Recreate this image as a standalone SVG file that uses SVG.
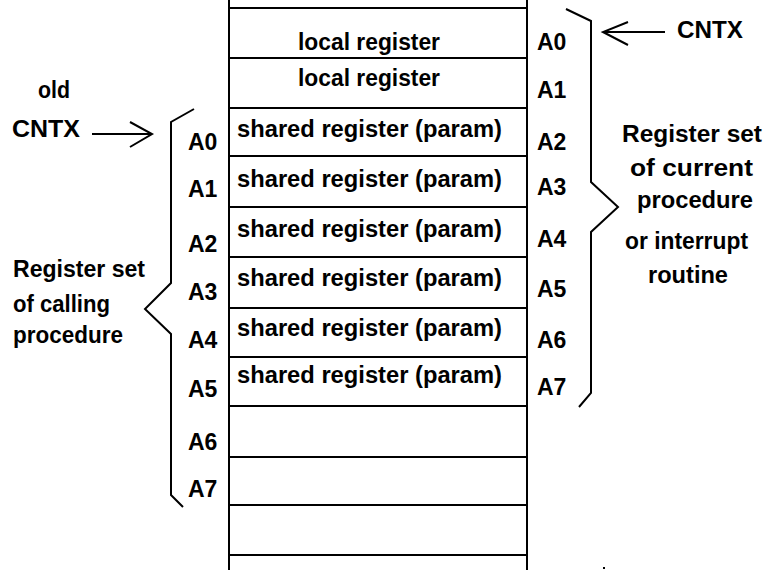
<svg xmlns="http://www.w3.org/2000/svg" width="778" height="570" viewBox="0 0 778 570">
<style>
  .ln { stroke:#000; stroke-width:2; fill:none; }
  .t { font-family:"Liberation Sans", Arial, Helvetica, sans-serif; font-weight:bold; font-size:23px; fill:#000; }
  .m { text-anchor:middle; }
  .a { font-family:"Liberation Sans", Arial, Helvetica, sans-serif; font-weight:bold; font-size:23px; fill:#000; }
</style>
<rect width="778" height="570" fill="#fff"/>

<g id="register-stack">
  <line class="ln" x1="229" y1="0" x2="229" y2="570"/>
  <line class="ln" x1="527" y1="0" x2="527" y2="570"/>
  <line class="ln" x1="229" y1="8" x2="527" y2="8"/>
  <line class="ln" x1="229" y1="58" x2="527" y2="58"/>
  <line class="ln" x1="229" y1="108" x2="527" y2="108"/>
  <line class="ln" x1="229" y1="156" x2="527" y2="156"/>
  <line class="ln" x1="229" y1="207" x2="527" y2="207"/>
  <line class="ln" x1="229" y1="257" x2="527" y2="257"/>
  <line class="ln" x1="229" y1="308" x2="527" y2="308"/>
  <line class="ln" x1="229" y1="357" x2="527" y2="357"/>
  <line class="ln" x1="229" y1="406" x2="527" y2="406"/>
  <line class="ln" x1="229" y1="457" x2="527" y2="457"/>
  <line class="ln" x1="229" y1="505" x2="527" y2="505"/>
  <line class="ln" x1="229" y1="555" x2="527" y2="555"/>
</g>

<g id="row-local-1"><text class="t m" x="369" y="50" textLength="142" lengthAdjust="spacingAndGlyphs">local register</text></g>
<g id="row-local-2"><text class="t m" x="369" y="86" textLength="142" lengthAdjust="spacingAndGlyphs">local register</text></g>
<g id="row-shared-1"><text class="t m" x="369.5" y="137" textLength="265" lengthAdjust="spacingAndGlyphs">shared register (param)</text></g>
<g id="row-shared-2"><text class="t m" x="369.5" y="187" textLength="265" lengthAdjust="spacingAndGlyphs">shared register (param)</text></g>
<g id="row-shared-3"><text class="t m" x="369.5" y="237" textLength="265" lengthAdjust="spacingAndGlyphs">shared register (param)</text></g>
<g id="row-shared-4"><text class="t m" x="369.5" y="286" textLength="265" lengthAdjust="spacingAndGlyphs">shared register (param)</text></g>
<g id="row-shared-5"><text class="t m" x="369.5" y="336" textLength="265" lengthAdjust="spacingAndGlyphs">shared register (param)</text></g>
<g id="row-shared-6"><text class="t m" x="369.5" y="383" textLength="265" lengthAdjust="spacingAndGlyphs">shared register (param)</text></g>

<g id="labels-current">
  <text class="a" x="537" y="50">A0</text>
  <text class="a" x="537" y="98">A1</text>
  <text class="a" x="537" y="150">A2</text>
  <text class="a" x="537" y="195">A3</text>
  <text class="a" x="537" y="247">A4</text>
  <text class="a" x="537" y="297">A5</text>
  <text class="a" x="537" y="348">A6</text>
  <text class="a" x="537" y="395">A7</text>
</g>

<g id="labels-calling">
  <text class="a" x="188" y="150">A0</text>
  <text class="a" x="188" y="197">A1</text>
  <text class="a" x="188" y="252">A2</text>
  <text class="a" x="188" y="300">A3</text>
  <text class="a" x="188" y="348">A4</text>
  <text class="a" x="188" y="397">A5</text>
  <text class="a" x="188" y="450">A6</text>
  <text class="a" x="188" y="497">A7</text>
</g>

<g id="old-cntx">
  <text class="t" x="38" y="98" textLength="32" lengthAdjust="spacingAndGlyphs">old</text>
  <text class="t" x="12" y="137" textLength="68" lengthAdjust="spacingAndGlyphs">CNTX</text>
</g>

<g id="cntx">
  <text class="t" x="677" y="38" textLength="66" lengthAdjust="spacingAndGlyphs">CNTX</text>
</g>

<g id="calling-set">
  <text class="t" x="13" y="277" textLength="132" lengthAdjust="spacingAndGlyphs">Register set</text>
  <text class="t" x="13" y="312" textLength="97" lengthAdjust="spacingAndGlyphs">of calling</text>
  <text class="t" x="13" y="343" textLength="110" lengthAdjust="spacingAndGlyphs">procedure</text>
</g>

<g id="current-set">
  <text class="t" x="622" y="142" textLength="140" lengthAdjust="spacingAndGlyphs">Register set</text>
  <text class="t" x="630" y="176" textLength="123" lengthAdjust="spacingAndGlyphs">of current</text>
  <text class="t" x="637" y="208" textLength="116" lengthAdjust="spacingAndGlyphs">procedure</text>
  <text class="t" x="625" y="249" textLength="123" lengthAdjust="spacingAndGlyphs">or interrupt</text>
  <text class="t" x="648" y="283" textLength="80" lengthAdjust="spacingAndGlyphs">routine</text>
</g>

<g id="connectors">
  <polyline class="ln" points="194,109 171,122 171,283 145,309 171,334 171,495 183,507"/>
  <polyline class="ln" points="566,9 591,21 591,182 618,207 591,232 591,393 579,407"/>
  <line class="ln" x1="92" y1="134" x2="152" y2="134"/>
  <polyline class="ln" points="130,122 152,134 130,147"/>
  <line class="ln" x1="603" y1="32" x2="665" y2="32"/>
  <polyline class="ln" points="628,22 603,32 628,45"/>
</g>

<rect x="603" y="567" width="2" height="2" fill="#000"/>
</svg>
